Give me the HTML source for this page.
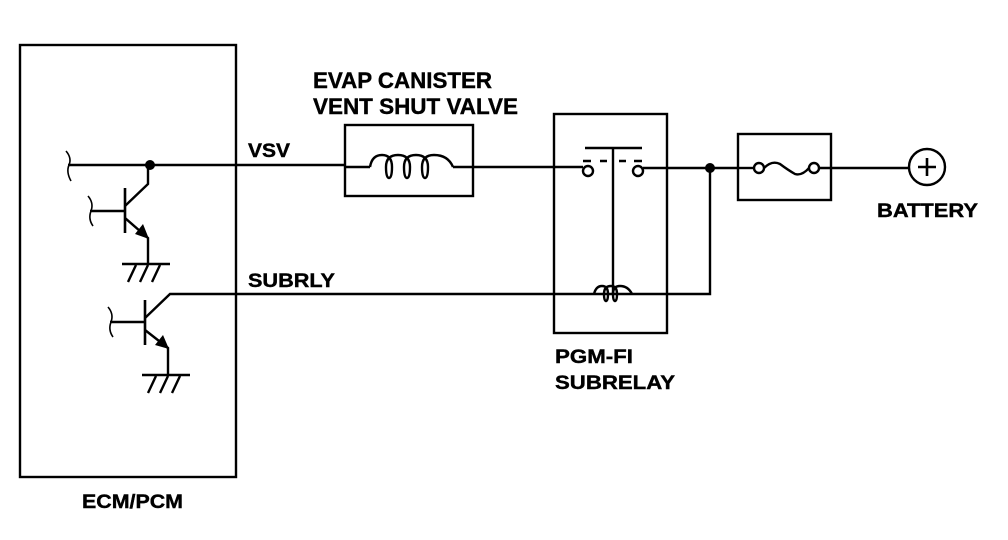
<!DOCTYPE html>
<html><head><meta charset="utf-8"><style>
html,body{margin:0;padding:0;background:#fff;}
svg{display:block;}
text{font-family:"Liberation Sans",Arial,sans-serif;font-weight:bold;fill:#000;stroke:#000;stroke-width:0.4;}
</style></head><body>
<svg width="1008" height="540" viewBox="0 0 1008 540" xmlns="http://www.w3.org/2000/svg">
<g stroke="#000" stroke-width="2.4" fill="none">
<rect x="20" y="45" width="216" height="432"/>
<line x1="68" y1="165" x2="345" y2="165"/>
<path d="M66 151 Q72 158 69 165 Q66 172 71 181" stroke-width="1.6"/>
<line x1="125" y1="188" x2="125" y2="233" stroke-width="2.6"/>
<line x1="90" y1="211" x2="125" y2="211"/>
<path d="M88 196 Q94 203 91 211 Q88 219 93 226" stroke-width="1.6"/>
<path d="M125 206 L148 184 L148 165"/>
<path d="M125 218 L148 238 L148 264"/>
<line x1="122" y1="264" x2="170" y2="264"/>
<path d="M128 282 L136 265 M140 282 L148 265 M152 282 L160 265"/>
<line x1="145" y1="300" x2="145" y2="345" stroke-width="2.6"/>
<line x1="110" y1="322" x2="145" y2="322"/>
<path d="M108 307 Q114 314 111 322 Q108 330 113 337" stroke-width="1.6"/>
<path d="M145 318 L170 294 L710 294 L710 168"/>
<path d="M145 330 L168 348 L168 375"/>
<line x1="142" y1="375" x2="190" y2="375"/>
<path d="M148 393 L156 376 M160 393 L168 376 M172 393 L180 376"/>
<rect x="345" y="125" width="128" height="71"/>
<path d="M345 167 L370 167"/>
<path d="M370 167 Q372 155 382 155 Q392 155 392 167 Q392 178 389 178 Q386 178 386 167 Q386 155 398 155 Q410 155 410 167 Q410 178 407 178 Q404 178 404 167 Q404 155 416 155 Q428 155 428 167 Q428 178 425 178 Q422 178 422 167 Q422 155 434 155 Q448 155 453 167"/>
<path d="M453 167 L583 167"/>
<rect x="554" y="114" width="113" height="219"/>
<circle cx="588" cy="171" r="5"/>
<circle cx="638" cy="171" r="5"/>
<path d="M583 161 L591 161 M600 161 L607 161 M619 161 L626 161 M634 161 L642 161"/>
<line x1="585" y1="148" x2="642" y2="148"/>
<line x1="613" y1="148" x2="613" y2="295"/>
<path d="M643 168 L738 168"/>
<path d="M594 294 Q596 286 602 286 Q608 286 608 294 Q608 301 606 301 Q604 301 604 294 Q604 286 611 286 Q617 286 617 294 Q617 301 615 301 Q613 301 613 294 Q613 286 620 286 Q628 286 632 294"/>
<rect x="738" y="134" width="93" height="66"/>
<circle cx="759" cy="168" r="5"/>
<circle cx="814" cy="168" r="5"/>
<path d="M764 168 Q772 160 780 164 Q788 170 795 174 Q802 176 809 168"/>
<line x1="738" y1="168" x2="754" y2="168"/>
<line x1="819" y1="168" x2="909" y2="168"/>
<circle cx="927" cy="167" r="18"/>
<path d="M927 158 L927 176 M918 167 L936 167" stroke-width="2.6"/>
</g>
<g fill="#000">
<circle cx="150" cy="165" r="5"/>
<circle cx="710" cy="168" r="5"/>
<polygon points="149,239 135,234 143,224"/>
<polygon points="169,349 155,345 163,335"/>
</g>
<text x="313" y="88" font-size="22" textLength="179" lengthAdjust="spacingAndGlyphs">EVAP CANISTER</text>
<text x="313" y="114" font-size="22" textLength="205" lengthAdjust="spacingAndGlyphs">VENT SHUT VALVE</text>
<text x="248" y="157" font-size="19" textLength="42" lengthAdjust="spacingAndGlyphs">VSV</text>
<text x="248" y="287" font-size="19" textLength="87" lengthAdjust="spacingAndGlyphs">SUBRLY</text>
<text x="877" y="217" font-size="19" textLength="101" lengthAdjust="spacingAndGlyphs">BATTERY</text>
<text x="555" y="363" font-size="19" textLength="78" lengthAdjust="spacingAndGlyphs">PGM-FI</text>
<text x="555" y="389" font-size="19" textLength="120" lengthAdjust="spacingAndGlyphs">SUBRELAY</text>
<text x="82" y="508" font-size="19" textLength="101" lengthAdjust="spacingAndGlyphs">ECM/PCM</text>
</svg>
</body></html>
